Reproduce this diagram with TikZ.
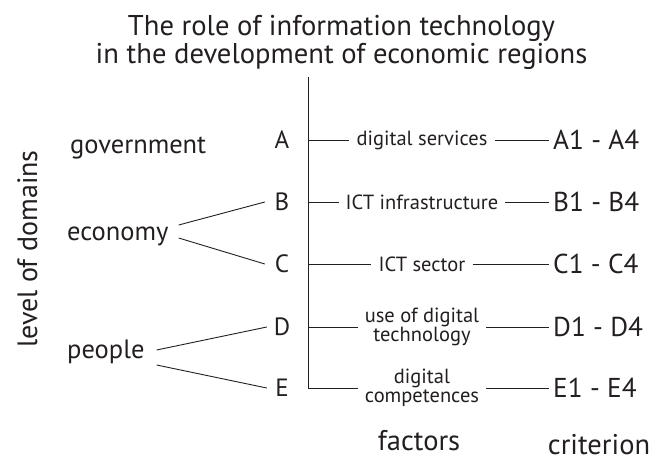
\documentclass[tikz,border=0pt]{standalone}
\usepackage{fontspec}
\setmainfont{PT Sans}
\usetikzlibrary{calc}
\definecolor{ink}{HTML}{231F20}
\begin{document}
\begin{tikzpicture}[x=1pt,y=-1pt,
  every node/.style={text=ink},
  link/.style={draw=ink,line width=0.9pt},
  titletext/.style={anchor=base,inner sep=0pt,font=\fontsize{28.6}{30}\selectfont},
  domainlabel/.style={anchor=base west,inner sep=0pt,font=\fontsize{26.5}{28}\selectfont},
  letter/.style={anchor=center,minimum width=34pt,inner sep=0pt,font=\fontsize{25}{28}\selectfont},
  factor/.style={anchor=center,align=center,inner xsep=7pt,inner ysep=0pt,font=\fontsize{20.5}{19}\selectfont},
  crit/.style={anchor=west,inner xsep=4pt,inner ysep=0pt,font=\fontsize{27.3}{28}\selectfont},
  axislabel/.style={anchor=base,inner sep=0pt,font=\fontsize{28.5}{30}\selectfont}]
\useasboundingbox (0,0) rectangle (650,455);

% heading
\node[titletext] (t1) at (341.5,35) {The role of information technology};
\node[titletext] (t2) at (341.5,63) {in the development of economic regions};

% domains
\node[axislabel,rotate=90,font=\fontsize{28}{30}\selectfont] (lvl) at (37,249) {level of domains};
\node[domainlabel] (gov) at (70,153) {government};
\node[domainlabel] (eco) at (67,240) {economy};
\node[domainlabel] (ppl) at (67,358) {people};

% domain letters
\node[letter] (A) at (282,140) {A};
\node[letter] (B) at (282,202) {B};
\node[letter] (C) at (282,264) {C};
\node[letter,minimum width=30pt] (D) at (282,327) {D};
\node[letter,minimum width=30pt] (E) at (282,388) {E};

% factors
\node[factor] (fA) at (422,140) {digital services};
\node[factor] (fB) at (422,202) {ICT infrastructure};
\node[factor] (fC) at (422,264) {ICT sector};
\node[factor] (fD) at (422,327) {use of digital\\technology};
\node[factor] (fE) at (422,388) {digital\\competences};

% criteria
\node[crit] (cA) at (549,140) {A1 - A4};
\node[crit] (cB) at (549,202) {B1 - B4};
\node[crit] (cC) at (549,264) {C1 - C4};
\node[crit] (cD) at (549,327) {D1 - D4};
\node[crit] (cE) at (549,388) {E1 - E4};

% column captions
\node[axislabel] (fac) at (419,450) {factors};
\node[axislabel] (cri) at (599,454) {criterion};

% forks from domains to letters
\draw[link] ($(eco.base east)+(10,-15)$) -- (B.west);
\draw[link] ($(eco.base east)+(10,-2)$) -- (C.west);
\draw[link] ($(ppl.base east)+(12,-8)$) -- (D.west);
\draw[link] ($(ppl.base east)+(12,7)$) -- (E.west);

% trunk and branches
\coordinate (top) at (308,77);
\draw[link] (top) -- (top |- fE) -- (fE.west);
\foreach \r in {A,B,C,D}{
  \draw[link] (top |- f\r) -- (f\r.west);
}
\foreach \r in {A,B,C,D,E}{
  \draw[link] (f\r.east) -- (c\r.west);
}
\end{tikzpicture}
\end{document}
